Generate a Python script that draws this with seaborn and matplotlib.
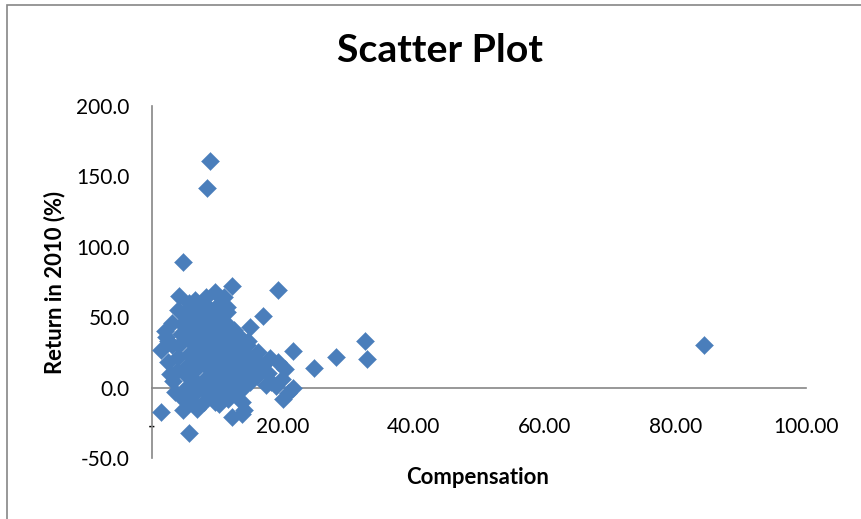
import matplotlib
matplotlib.use("Agg")
import matplotlib.pyplot as plt
import seaborn as sns
import pandas as pd
from matplotlib.ticker import FuncFormatter, FixedLocator
from matplotlib.patches import Rectangle

# ---- data ----
compensation = [
    8.9, 8.4, 4.8, 12.3, 19.2, 4.1, 9.6, 16.9, 21.6, 24.8, 1.3, 1.3, 5.6, 21.6, 20.1,
    12.3, 14.0, 15.0, 11.0, 28.1, 32.6, 32.9, 84.4,
    6.6, 10.0, 11.5, 4.0, 3.0, 2.0, 2.5, 14.7, 16.2, 18.0, 19.3, 20.3, 19.9, 20.8,
    19.0, 17.7, 16.8,
    3.2, 3.5, 3.8, 4.0, 4.2, 4.4, 4.6, 4.8, 5.0, 5.2, 5.3, 5.5, 5.6, 5.8, 6.0, 6.1,
    6.3, 6.4, 6.5, 6.7, 6.8, 7.0, 7.1, 7.3, 7.4, 7.6, 7.7, 7.9, 8.0, 8.1, 8.3, 8.4,
    8.5, 8.7, 8.8, 9.0, 9.1, 9.3, 9.4, 9.5, 9.7, 9.8, 10.0, 10.1, 10.3, 10.4, 10.6,
    10.7, 10.9, 11.0, 11.2, 11.3, 11.5, 11.6, 11.8, 11.9, 12.1, 12.2, 12.4, 12.5,
    12.7, 12.8, 13.0, 13.1, 13.3, 13.5, 13.7, 13.9, 14.0, 14.2, 14.4, 14.6, 15.0,
    15.3, 15.6, 16.0, 16.4, 2.5, 2.8, 3.0, 2.2, 5.7, 8.2, 6.9, 9.6, 4.3, 17.5, 18.2,
    4.7, 13.8,
]
return_2010 = [
    161, 142, 89, 72, 69, 65, 68, 51, 26, 14, 27, -17, -32, 0, -8,
    -21, -16, 43, 64, 22, 33, 20, 30,
    62, 58, 57, 55, 46, 40, 33, 33, 25, 21, 18, 13.5, 6.4, -3.6,
    1.4, 10.7, 15.6,
    5, -3, 12, 22, 30, 38, 45, 52, -8, 0, 8, 16, 24, 33, 41, 48,
    56, -12, -4, 4, 13, 20, 28, 36, 44, 52, 60, -10, -2, 6, 15, 23,
    31, 39, 47, 55, -6, 2, 10, 18, 26, 34, 42, 50, -12, -3, 5,
    14, 22, 30, 38, 46, 54, -8, 1, 9, 17, 25, 33, 41,
    -4, 4, 12, 20, 28, 36, -10, 0, 8, 16, 24, 30, 4,
    12, 20, 8, 14, 18, 10, 30, 36, 60, 64, -15, -10, -6, 2, 4,
    -16, -18.5,
]
x_ticks = [0, 20, 40, 60, 80, 100]
y_ticks = [-50, 0, 50, 100, 150, 200]
title = "Scatter Plot"
x_label = "Compensation"
y_label = "Return in 2010 (%)"

df = pd.DataFrame({"Compensation": compensation, "Return": return_2010})

sns.set_style("white")
plt.rcParams["font.family"] = ["Lato", "DejaVu Sans"]
plt.rcParams["text.color"] = "black"

W, H = 861, 519
fig = plt.figure(figsize=(W / 100, H / 100), dpi=100)
ax = fig.add_axes([152 / W, 1 - 458 / H, (806 - 152) / W, (458 - 106) / H])

sns.scatterplot(data=df, x="Compensation", y="Return", ax=ax, marker="D",
                s=84, color="#4A7EBB", edgecolor="#4A7EBB", linewidth=0.3,
                legend=False, zorder=3)

ax.set_xlim(0, 100)
ax.set_ylim(-50, 200)

grey = "#868686"
for s in ["top", "right"]:
    ax.spines[s].set_visible(False)
ax.spines["left"].set_color(grey)
ax.spines["left"].set_linewidth(1.2)
ax.spines["bottom"].set_position(("data", 0))
ax.spines["bottom"].set_color(grey)
ax.spines["bottom"].set_linewidth(1.2)

renderer = fig.canvas.get_renderer()


def fit_size(text, target_px, weight="normal", base=12.0):
    t = fig.text(0, 0, text, fontsize=base, fontweight=weight)
    w = t.get_window_extent(renderer).width
    t.remove()
    return base * target_px / w


tick_size = fit_size("200.0", 53)
label_size = fit_size(x_label, 142, "bold")
title_size = fit_size(title, 205, "bold")

ax.xaxis.set_major_locator(FixedLocator(x_ticks))
ax.yaxis.set_major_locator(FixedLocator(y_ticks))
ax.xaxis.set_major_formatter(FuncFormatter(lambda v, p: "-" if v == 0 else f"{v:.2f}"))
ax.yaxis.set_major_formatter(FuncFormatter(lambda v, p: f"{v:.1f}"))
ax.tick_params(axis="both", length=0, labelsize=tick_size, colors="black")
ax.tick_params(axis="x", pad=21)
ax.tick_params(axis="y", pad=16)

ax.set_xlabel("")
ax.set_ylabel("")
fig.text(478 / W, 1 - 478 / H, x_label, ha="center", va="center",
         fontsize=label_size, fontweight="bold", color="black")
fig.text(55 / W, 1 - 282 / H, y_label, ha="center", va="center",
         rotation=90, fontsize=label_size, fontweight="bold", color="black")
fig.text(440 / W, 1 - 51 / H, title, ha="center", va="center",
         fontsize=title_size, fontweight="bold", color="black")

fig.patches.append(Rectangle((7 / W, -0.05), 1.2, 1 - 5 / H + 0.05,
                             transform=fig.transFigure, fill=False,
                             edgecolor=grey, linewidth=1.2))

fig.savefig("out.png", dpi=100)
